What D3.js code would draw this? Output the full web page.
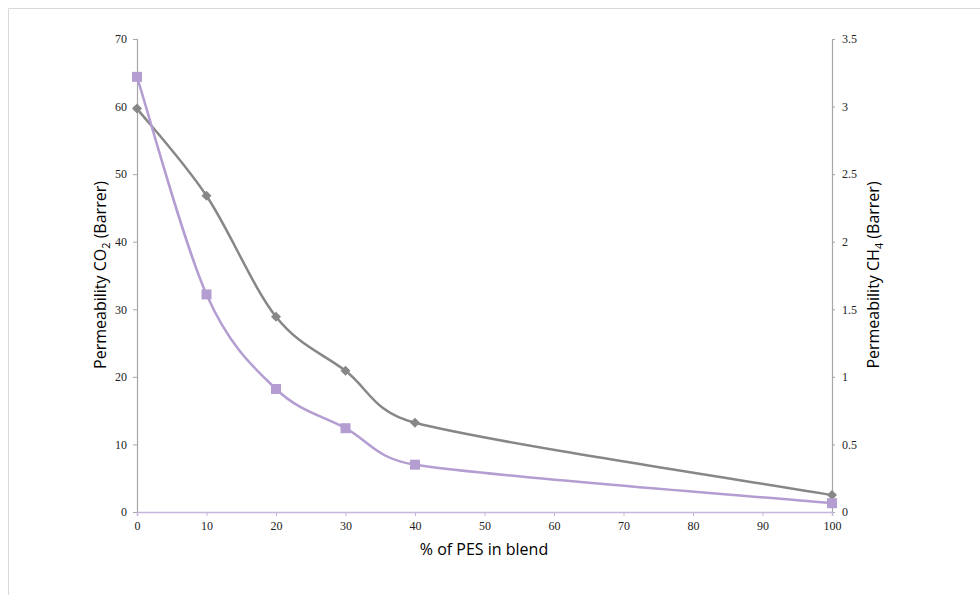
<!DOCTYPE html>
<html><head><meta charset="utf-8">
<script src="https://cdn.jsdelivr.net/npm/d3@7"></script>
<style>body{margin:0;background:#fff}</style>
</head><body>
<svg id="c" width="980" height="595"></svg>
<script>
const pesPercent = [0, 10, 20, 30, 40, 100];
const co2Perm = [59.7, 46.8, 28.9, 20.9, 13.2, 2.5];
const ch4Perm = [3.22, 1.61, 0.91, 0.62, 0.35, 0.065];
const xTicks = [0,10,20,30,40,50,60,70,80,90,100];
const yLeftTicks = [0,10,20,30,40,50,60,70];
const yRightTicks = [0,0.5,1,1.5,2,2.5,3,3.5];

const svg = d3.select("#c");
const L = 137, R = 832, T = 39, B = 512;
const x = d3.scaleLinear().domain([0,100]).range([L,R]);
const yL = d3.scaleLinear().domain([0,70]).range([B,T]);
const yR = d3.scaleLinear().domain([0,3.5]).range([B,T]);

// frame
svg.append("path").attr("d","M8.5,595V8.5H980").attr("fill","none").attr("stroke","#d9d9d9").attr("stroke-width",1);

const tickFont = "'Liberation Serif', 'Times New Roman', serif";
const gL = svg.append("g").attr("transform",`translate(${L},0)`)
  .call(d3.axisLeft(yL).tickValues(yLeftTicks).tickSize(4).tickPadding(6).tickFormat(d3.format("d")));
const gR = svg.append("g").attr("transform",`translate(${R},0)`)
  .call(d3.axisRight(yR).tickValues(yRightTicks).tickSize(3).tickPadding(7).tickFormat(d=>String(d)));
const gX = svg.append("g").attr("transform",`translate(0,${B})`)
  .call(d3.axisBottom(x).tickValues(xTicks).tickSize(4).tickPadding(5).tickFormat(d3.format("d")));
[gL,gR].forEach(g=>{
  g.select(".domain").attr("stroke","#a6a6a6").attr("stroke-width",1.2);
  g.selectAll(".tick line").attr("stroke","#a6a6a6");
});
gX.select(".domain").attr("stroke","#c5b6dc").attr("stroke-width",1.5);
gX.selectAll(".tick line").attr("stroke","#c5b6dc");
[gL,gR,gX].forEach(g=>g.selectAll("text").attr("font-family",tickFont).attr("font-size",12).attr("fill","#222"));

// Excel-style smoothed line (Bezier with limited control-point factors)
function smoothPath(pts){
  const p = d3.path();
  const dist = (a,b)=>Math.hypot(a[0]-b[0],a[1]-b[1]);
  p.moveTo(pts[0][0],pts[0][1]);
  for(let i=0;i<pts.length-1;i++){
    const p0 = pts[Math.max(i-1,0)], p1 = pts[i], p2 = pts[i+1], p3 = pts[Math.min(i+2,pts.length-1)];
    const d12 = dist(p1,p2), d02 = dist(p0,p2), d13 = dist(p1,p3);
    const f = d02>0 ? Math.min(1/6, d12/(2*d02)) : 0;
    const g = d13>0 ? Math.min(1/6, d12/(2*d13)) : 0;
    p.bezierCurveTo(p1[0]+(p2[0]-p0[0])*f, p1[1]+(p2[1]-p0[1])*f,
                    p2[0]-(p3[0]-p1[0])*g, p2[1]-(p3[1]-p1[1])*g,
                    p2[0], p2[1]);
  }
  return p.toString();
}

const gray = "#878787", purple = "#b39dd1";
const ptsL = co2Perm.map((d,i)=>[x(pesPercent[i]), yL(d)]);
const ptsR = ch4Perm.map((d,i)=>[x(pesPercent[i]), yR(d)]);

svg.append("path").attr("d",smoothPath(ptsL)).attr("fill","none").attr("stroke",gray).attr("stroke-width",2.5);
svg.append("path").attr("d",smoothPath(ptsR)).attr("fill","none").attr("stroke",purple).attr("stroke-width",2.5);

svg.selectAll(".dia").data(co2Perm).enter().append("path")
  .attr("d",d3.symbol(d3.symbolSquare, 50)())
  .attr("transform",(d,i)=>`translate(${x(pesPercent[i])},${yL(d)}) rotate(45)`)
  .attr("fill",gray);
svg.selectAll(".sq").data(ch4Perm).enter().append("rect")
  .attr("x",(d,i)=>x(pesPercent[i])-5).attr("y",d=>yR(d)-5)
  .attr("width",10).attr("height",10).attr("fill",purple);

const titleFont = "'Open Sans', 'Noto Sans', sans-serif";
svg.append("text").attr("x",484).attr("y",555).attr("text-anchor","middle")
  .attr("font-family",titleFont).attr("font-size",16).attr("fill","#000").text("% of PES in blend");

const tl = svg.append("text").attr("transform","translate(106,275) rotate(-90)").attr("text-anchor","middle")
  .attr("font-family",titleFont).attr("font-size",16).attr("fill","#000");
tl.append("tspan").text("Permeability CO");
tl.append("tspan").attr("font-size",11).attr("dy",4).text("2");
tl.append("tspan").attr("dy",-4).text(" (Barrer)");

const tr = svg.append("text").attr("transform","translate(879,275) rotate(-90)").attr("text-anchor","middle")
  .attr("font-family",titleFont).attr("font-size",16).attr("fill","#000");
tr.append("tspan").text("Permeability CH");
tr.append("tspan").attr("font-size",11).attr("dy",4).text("4");
tr.append("tspan").attr("dy",-4).text(" (Barrer)");
</script>
</body></html>
